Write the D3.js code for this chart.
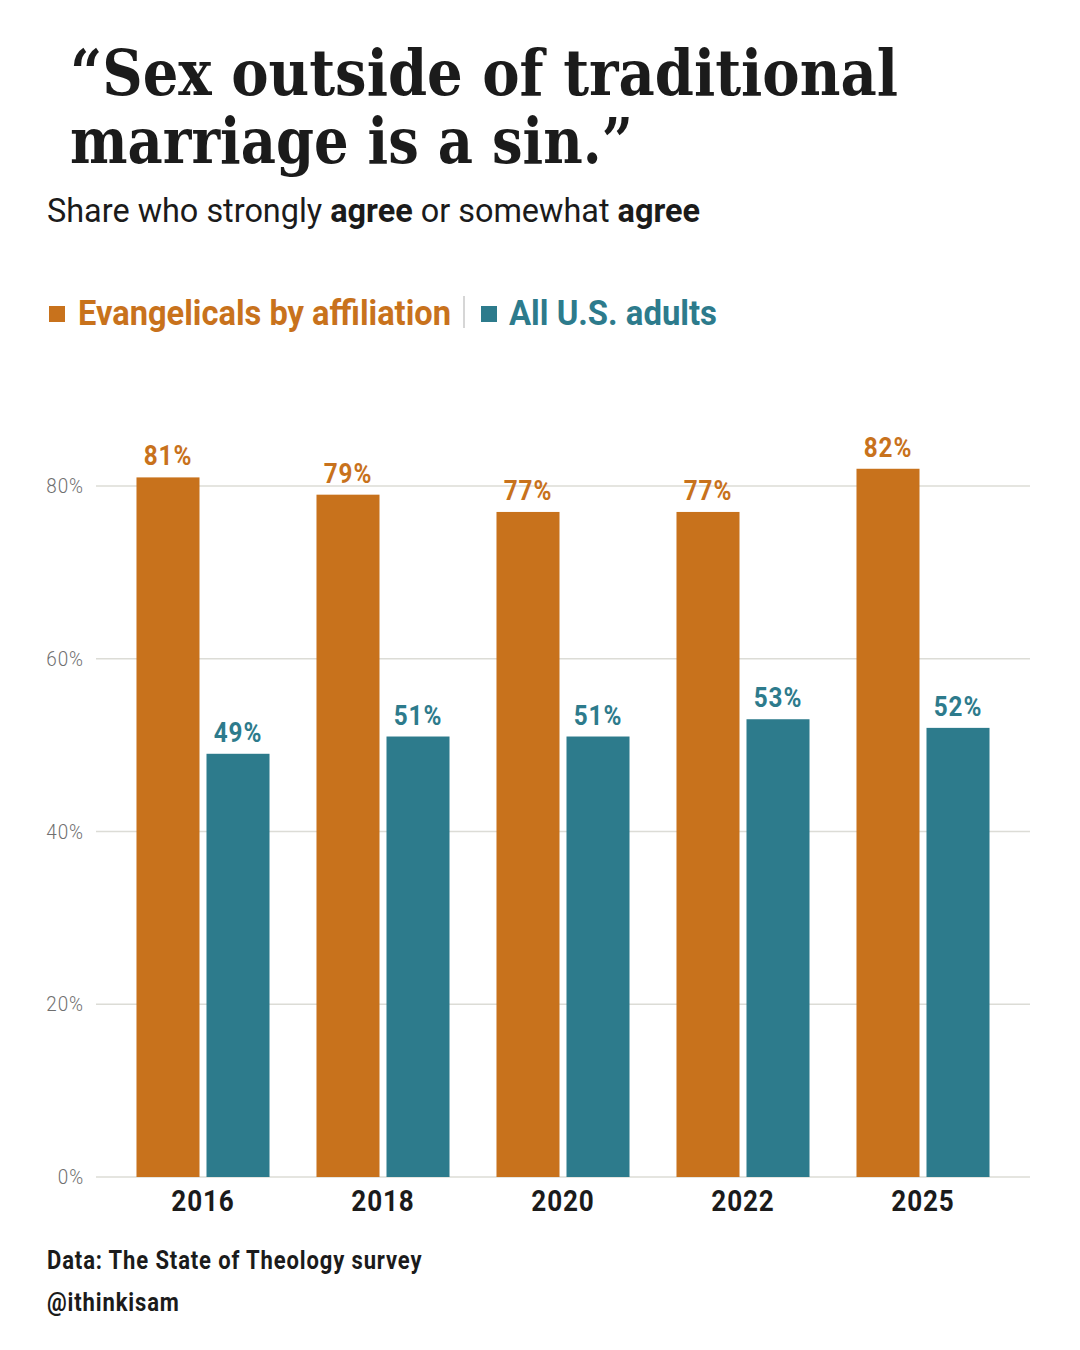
<!DOCTYPE html>
<html>
<head>
<meta charset="utf-8">
<script src="https://cdn.jsdelivr.net/npm/d3@7"></script>
<style>
  body { margin: 0; background: #fff; }
  svg { display: block; }
  text { font-family: Roboto, "Noto Sans", sans-serif; }
</style>
</head>
<body>
<div id="chart"></div>
<script>
// chart values
var years = ["2016", "2018", "2020", "2022", "2025"];
var seriesNames = ["Evangelicals by affiliation", "All U.S. adults"];
var evangelicals = [81, 79, 77, 77, 82];
var allAdults = [49, 51, 51, 53, 52];
var yTicks = [0, 20, 40, 60, 80];

var colors = ["#c8721c", "#2d7b8c"];
var W = 1080, H = 1350;

// fake a condensed face: squeeze horizontally
function squeeze(x, y, k) {
  return "translate(" + x + "," + y + ") scale(" + k + ",1)";
}

var svg = d3.select("#chart").append("svg")
  .attr("width", W).attr("height", H);

// title, fitted to the reference width
var titleLines = ["\u201cSex outside of traditional", "marriage is a sin.\u201d"];
var titleWidths = [828, 563];
svg.selectAll("text.title")
  .data(titleLines)
  .enter().append("text")
  .attr("class", "title")
  .attr("x", 70)
  .attr("y", function(d, i) { return 95 + i * 68; })
  .attr("textLength", function(d, i) { return titleWidths[i]; })
  .attr("lengthAdjust", "spacingAndGlyphs")
  .style("font-family", "'Roboto Slab', 'DejaVu Serif', serif")
  .style("font-weight", 700)
  .style("font-size", "64px")
  .style("fill", "#1b1b1b")
  .text(function(d) { return d; });

// subtitle
var sub = svg.append("text")
  .attr("x", 47).attr("y", 222)
  .attr("textLength", 653)
  .attr("lengthAdjust", "spacingAndGlyphs")
  .style("font-size", "33px")
  .style("font-weight", 400)
  .style("fill", "#1b1b1b");
sub.append("tspan").text("Share who strongly ");
sub.append("tspan").style("font-weight", 700).text("agree");
sub.append("tspan").text(" or somewhat ");
sub.append("tspan").style("font-weight", 700).text("agree");

// legend
var legend = svg.append("g");
legend.append("rect").attr("x", 49).attr("y", 306).attr("width", 16).attr("height", 16).attr("fill", colors[0]);
legend.append("text").attr("x", 78).attr("y", 325)
  .attr("textLength", 373).attr("lengthAdjust", "spacingAndGlyphs")
  .style("font-size", "35px").style("font-weight", 700).style("fill", colors[0])
  .text(seriesNames[0]);
legend.append("line").attr("x1", 464).attr("x2", 464).attr("y1", 296).attr("y2", 328)
  .attr("stroke", "#d6d6d6").attr("stroke-width", 2);
legend.append("rect").attr("x", 481).attr("y", 306).attr("width", 16).attr("height", 16).attr("fill", colors[1]);
legend.append("text").attr("x", 509).attr("y", 325)
  .attr("textLength", 208).attr("lengthAdjust", "spacingAndGlyphs")
  .style("font-size", "35px").style("font-weight", 700).style("fill", colors[1])
  .text(seriesNames[1]);

// scales
var y = d3.scaleLinear().domain([0, 100]).range([1177, 313.3]);
var x0 = d3.scaleBand().domain(years).range([113, 1013])
  .paddingInner(0.261).paddingOuter(0.1305);
var x1 = d3.scaleBand().domain([0, 1]).range([0, x0.bandwidth()]).paddingInner(0.1);

// grid
svg.append("g").selectAll("line")
  .data(yTicks)
  .enter().append("line")
  .attr("x1", 96).attr("x2", 1030)
  .attr("y1", function(d) { return y(d); })
  .attr("y2", function(d) { return y(d); })
  .attr("stroke", "#dcdcd6").attr("stroke-width", 1.5);

svg.append("g").selectAll("text")
  .data(yTicks)
  .enter().append("text")
  .attr("transform", function(d) { return squeeze(84, y(d) + 7, 0.9); })
  .attr("text-anchor", "end")
  .style("font-size", "21px").style("font-weight", 300).style("fill", "#6f6f6f")
  .style("letter-spacing", "1px")
  .text(function(d) { return d + "%"; });

// bars
var rows = years.map(function(yr, i) {
  return { year: yr, values: [evangelicals[i], allAdults[i]] };
});

var groups = svg.append("g").selectAll("g")
  .data(rows)
  .enter().append("g")
  .attr("transform", function(d) { return "translate(" + x0(d.year) + ",0)"; });

groups.selectAll("rect")
  .data(function(d) { return d.values; })
  .enter().append("rect")
  .attr("x", function(d, i) { return x1(i); })
  .attr("y", function(d) { return y(d); })
  .attr("width", x1.bandwidth())
  .attr("height", function(d) { return y(0) - y(d); })
  .attr("fill", function(d, i) { return colors[i]; });

groups.selectAll("text.val")
  .data(function(d) { return d.values; })
  .enter().append("text")
  .attr("class", "val")
  .attr("transform", function(d, i) { return squeeze(x1(i) + x1.bandwidth() / 2, y(d) - 12, 0.9); })
  .attr("text-anchor", "middle")
  .style("font-size", "27px").style("font-weight", 700)
  .style("letter-spacing", "1px")
  .style("fill", function(d, i) { return colors[i]; })
  .text(function(d) { return d + "%"; });

// year labels
svg.append("g").selectAll("text")
  .data(years)
  .enter().append("text")
  .attr("transform", function(d) { return squeeze(x0(d) + x0.bandwidth() / 2, 1211, 0.9); })
  .attr("text-anchor", "middle")
  .style("font-size", "29px").style("font-weight", 700).style("fill", "#1b1b1b")
  .style("letter-spacing", "1px")
  .text(function(d) { return d; });

// source
var notes = ["Data: The State of Theology survey", "@ithinkisam"];
svg.append("g").selectAll("text")
  .data(notes)
  .enter().append("text")
  .attr("transform", function(d, i) { return squeeze(47, 1269 + i * 42, 0.88); })
  .style("font-size", "25px").style("font-weight", 700).style("fill", "#1b1b1b")
  .style("letter-spacing", "1px")
  .text(function(d) { return d; });
</script>
</body>
</html>
